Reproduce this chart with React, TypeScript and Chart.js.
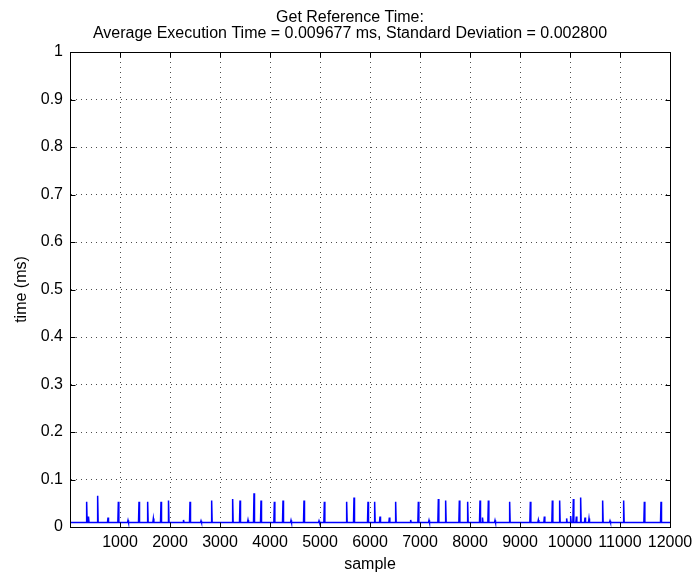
import React, { useEffect, useRef } from "react";
import { Chart, registerables } from "chart.js";

Chart.register(...registerables);

const titleLines = [
  "Get Reference Time:",
  "Average Execution Time = 0.009677 ms, Standard Deviation = 0.002800",
];
const xLabel = "sample";
const yLabel = "time (ms)";

const xTickValues = [1000, 2000, 3000, 4000, 5000, 6000, 7000, 8000, 9000, 10000, 11000, 12000];
const yTickValues = [0, 0.1, 0.2, 0.3, 0.4, 0.5, 0.6, 0.7, 0.8, 0.9, 1];
const yTickLabels = ["0", "0.1", "0.2", "0.3", "0.4", "0.5", "0.6", "0.7", "0.8", "0.9", "1"];

const sampleStart = 1;
const sampleEnd = 12000;
const baselineValue = 0.0095;

// tall spikes (sample index, time in ms)
const spikeSamples = [
  333, 553, 967, 1380, 1553, 1820, 1970, 2400, 2833, 3253, 3400, 3680, 3820,
  4087, 4260, 4680, 5087, 5533, 5680, 5960, 6093, 6513, 6967, 7367, 7513, 7787,
  7953, 8200, 8367, 8793, 9207, 9647, 9793, 10067, 10213, 10653, 11073, 11487, 11820,
];
const spikeValues = [
  0.053, 0.066, 0.053, 0.053, 0.053, 0.053, 0.056, 0.053, 0.056, 0.059, 0.056, 0.071, 0.056,
  0.053, 0.056, 0.056, 0.053, 0.053, 0.062, 0.053, 0.053, 0.053, 0.053, 0.059, 0.056, 0.056,
  0.053, 0.056, 0.056, 0.053, 0.053, 0.056, 0.056, 0.059, 0.062, 0.056, 0.056, 0.053, 0.053,
];

// small bumps above the baseline
const bumpSamples = [
  370, 760, 1160, 1667, 2270, 2620, 3560, 4420, 4980, 6200, 6387, 6813, 7180,
  8250, 8500, 9367, 9487, 9933, 10013, 10127, 10300, 10380, 10800,
];
const bumpValues = [
  0.022, 0.02, 0.014, 0.018, 0.015, 0.013, 0.015, 0.014, 0.013, 0.022, 0.02, 0.015, 0.014,
  0.02, 0.014, 0.015, 0.022, 0.018, 0.023, 0.022, 0.02, 0.018, 0.013,
];

const FONT = "'Liberation Sans', Helvetica, Arial, sans-serif";

function buildPoints() {
  const events: { s: number; v: number }[] = [];
  spikeSamples.forEach((s, i) => events.push({ s, v: spikeValues[i] }));
  bumpSamples.forEach((s, i) => events.push({ s, v: bumpValues[i] }));
  events.sort((a, b) => a.s - b.s);
  const pts: { x: number; y: number }[] = [{ x: sampleStart, y: baselineValue }];
  events.forEach((e) => {
    pts.push({ x: e.s - 10, y: baselineValue });
    pts.push({ x: e.s, y: e.v });
    pts.push({ x: e.s + 10, y: baselineValue });
  });
  pts.push({ x: sampleEnd, y: baselineValue });
  return pts;
}

const boxPlugin = {
  id: "matlabBox",
  afterDatasetsDraw(chart: any) {
    const { ctx, chartArea, scales } = chart;
    const { left, right, top, bottom } = chartArea;
    const x = scales.x;
    const y = scales.y;
    const L = 5;
    ctx.save();
    ctx.strokeStyle = "#000";
    ctx.lineWidth = 1;
    ctx.setLineDash([]);
    const l = Math.round(left) + 0.5;
    const r = Math.round(right) + 0.5;
    const t = Math.round(top) + 0.5;
    const b = Math.round(bottom) + 0.5;
    ctx.beginPath();
    ctx.rect(l, t, r - l, b - t);
    xTickValues.forEach((v) => {
      const px = Math.round(x.getPixelForValue(v)) + 0.5;
      ctx.moveTo(px, b);
      ctx.lineTo(px, b - L);
      ctx.moveTo(px, t);
      ctx.lineTo(px, t + L);
    });
    yTickValues.forEach((v) => {
      const py = Math.round(y.getPixelForValue(v)) + 0.5;
      ctx.moveTo(l, py);
      ctx.lineTo(l + L, py);
      ctx.moveTo(r, py);
      ctx.lineTo(r - L, py);
    });
    ctx.stroke();
    ctx.restore();
  },
};

export default function App() {
  const ref = useRef<HTMLCanvasElement | null>(null);
  useEffect(() => {
    if (!ref.current) return;
    const chart = new Chart(ref.current, {
      type: "line",
      data: {
        datasets: [
          {
            data: buildPoints(),
            borderColor: "#0000ff",
            borderWidth: 1.5,
            pointRadius: 0,
            tension: 0,
            fill: false,
            yAxisID: "y",
          },
        ],
      },
      options: {
        responsive: false,
        animation: false,
        devicePixelRatio: 1,
        layout: { padding: { left: 0, right: 0, top: 0, bottom: 0 } },
        plugins: {
          legend: { display: false },
          tooltip: { enabled: false },
          title: {
            display: true,
            text: titleLines,
            color: "#000",
            font: { family: FONT, size: 16, weight: "normal", lineHeight: 1 },
            padding: { top: 10, bottom: 10 },
          },
        },
        scales: {
          x: {
            type: "linear",
            min: 0,
            max: 12000,
            afterBuildTicks: (scale: any) => {
              scale.ticks = xTickValues.map((v) => ({ value: v }));
            },
            afterFit: (scale: any) => {
              scale.height = 49;
            },
            ticks: {
              color: "#000",
              font: { family: FONT, size: 16 },
              padding: 6,
              maxRotation: 0,
              autoSkip: false,
              callback: (v: any) => String(v),
            },
            grid: { color: "rgba(0,0,0,0.7)", drawTicks: false, lineWidth: 1 },
            border: { display: true, color: "#000", dash: [1, 4] },
            title: {
              display: true,
              text: xLabel,
              color: "#000",
              font: { family: FONT, size: 16, lineHeight: 1 },
              padding: { top: 0, bottom: 3 },
            },
          },
          y: {
            type: "linear",
            position: "left",
            min: 0,
            max: 1,
            afterBuildTicks: (scale: any) => {
              scale.ticks = yTickValues.map((v) => ({ value: v }));
            },
            afterFit: (scale: any) => {
              scale.width = 70;
            },
            ticks: {
              color: "#000",
              font: { family: FONT, size: 16 },
              padding: 7,
              autoSkip: false,
              callback: (_v: any, i: number) => yTickLabels[i],
            },
            grid: { color: "rgba(0,0,0,0.7)", drawTicks: false, lineWidth: 1 },
            border: { display: true, color: "#000", dash: [1, 4] },
            title: {
              display: true,
              text: yLabel,
              color: "#000",
              font: { family: FONT, size: 16, lineHeight: 1 },
              padding: { top: 14, bottom: 0 },
            },
          },
          yRight: {
            type: "linear",
            position: "right",
            min: 0,
            max: 1,
            afterFit: (scale: any) => {
              scale.width = 30;
            },
            ticks: { display: false },
            grid: { display: false, drawTicks: false },
            border: { display: false },
          },
        },
      },
      plugins: [boxPlugin],
    } as any);
    return () => chart.destroy();
  }, []);
  return (
    <div style={{ position: "absolute", left: 0, top: 0, width: 700, height: 576, background: "#fff" }}>
      <canvas ref={ref} width={700} height={576} />
    </div>
  );
}
